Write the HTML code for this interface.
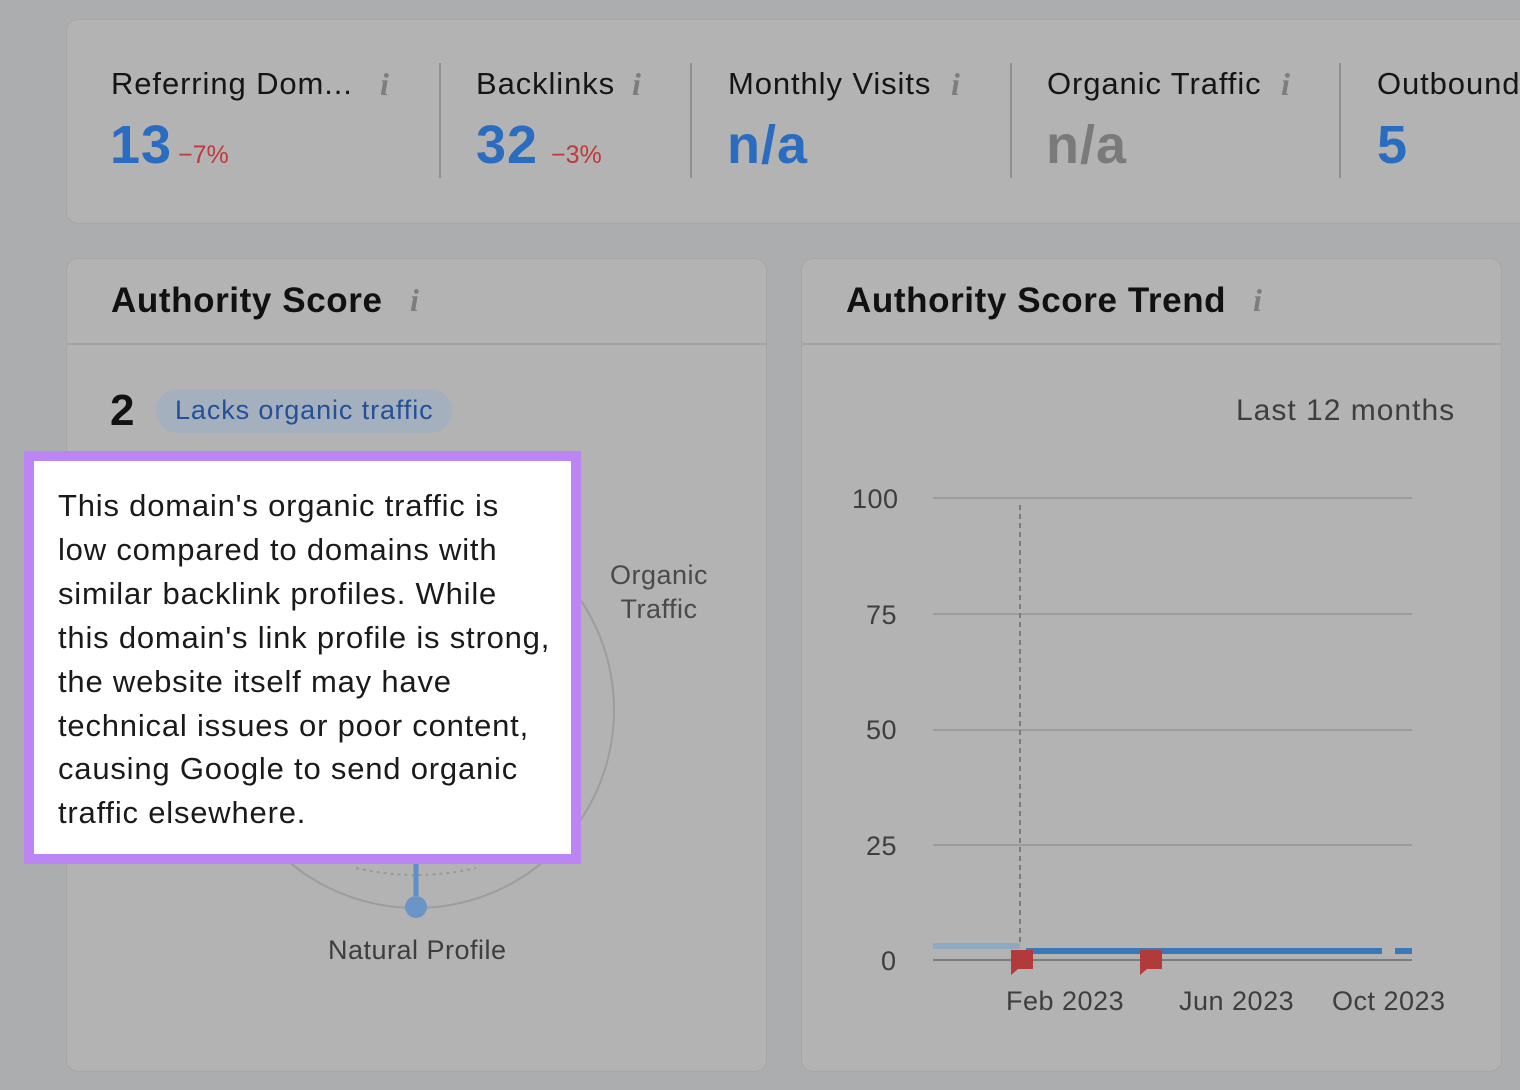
<!DOCTYPE html>
<html><head><meta charset="utf-8"><style>
body{margin:0;width:1520px;height:1090px;background:#acadaf;font-family:"Liberation Sans",sans-serif;position:relative;overflow:hidden}
.card{position:absolute;background:#b3b3b3;border:1px solid #a6a6a6;border-radius:12px}
.t{position:absolute;white-space:nowrap}
.lbl{font-size:31px;color:#151515;letter-spacing:0.9px}
.big{font-size:54px;font-weight:bold;color:#2a6cbf;letter-spacing:1px}
.ch{font-size:25px;color:#c0393b}
.info{position:absolute;font-family:"Liberation Serif",serif;font-style:italic;font-weight:bold;font-size:32px;color:#7d7d7d}
.vs{position:absolute;width:2px;background:#8f8f8f;top:63px;height:115px}
.ax{font-size:27px;color:#3e3e3e;letter-spacing:0.5px}
</style></head><body>
<div class="card" style="left:66px;top:19px;width:1480px;height:203px"></div>
<div class="t lbl" style="left:111px;top:66px">Referring Dom...</div><div class="info" style="left:380px;top:66px">i</div>
<div class="t big" style="left:110px;top:114px">13</div><div class="t ch" style="left:178px;top:141px">−7%</div>
<div class="vs" style="left:439px"></div>
<div class="t lbl" style="left:476px;top:66px">Backlinks</div><div class="info" style="left:632px;top:66px">i</div>
<div class="t big" style="left:476px;top:114px">32</div><div class="t ch" style="left:551px;top:141px">−3%</div>
<div class="vs" style="left:690px"></div>
<div class="t lbl" style="left:728px;top:66px">Monthly Visits</div><div class="info" style="left:951px;top:66px">i</div>
<div class="t big" style="left:727px;top:114px">n/a</div>
<div class="vs" style="left:1010px"></div>
<div class="t lbl" style="left:1047px;top:66px">Organic Traffic</div><div class="info" style="left:1281px;top:66px">i</div>
<div class="t big" style="left:1046px;top:114px;color:#7a7a7a">n/a</div>
<div class="vs" style="left:1339px"></div>
<div class="t lbl" style="left:1377px;top:66px">Outbound</div>
<div class="t big" style="left:1377px;top:114px">5</div>

<div class="card" style="left:66px;top:258px;width:699px;height:812px"></div>
<div style="position:absolute;left:67px;top:343px;width:699px;height:2px;background:#a2a2a2"></div>
<div class="t" style="left:111px;top:281px;font-size:35px;font-weight:bold;color:#111;letter-spacing:0.6px">Authority Score</div>
<div class="info" style="left:410px;top:282px">i</div>
<div class="t" style="left:110px;top:386px;font-size:44px;font-weight:bold;color:#111">2</div>
<div style="position:absolute;left:156px;top:389px;width:296px;height:44px;border-radius:22px;background:#a4b0bd"></div>
<div class="t" style="left:175px;top:395px;font-size:27px;color:#24509a;letter-spacing:0.9px">Lacks organic traffic</div>
<svg style="position:absolute;left:0;top:0" width="1520" height="1090">
<circle cx="416" cy="710" r="198" fill="none" stroke="#9d9d9d" stroke-width="2"/>
<path d="M356 868 Q416 882 476 868" fill="none" stroke="#999" stroke-width="2" stroke-dasharray="3 4"/>
<line x1="416" y1="862" x2="416" y2="896" stroke="#5f8fc4" stroke-width="5"/>
<circle cx="416" cy="907" r="11" fill="#6b95c6"/>
</svg>
<div class="t" style="left:610px;top:558px;font-size:27px;color:#4a4a4a;text-align:center;line-height:34px;letter-spacing:0.5px">Organic<br>Traffic</div>
<div class="t" style="left:328px;top:935px;font-size:27px;color:#3e3e3e;letter-spacing:0.5px">Natural Profile</div>

<div style="position:absolute;left:24px;top:451px;width:537px;height:393px;border:10px solid #bb86f4;background:#fff"></div>
<div class="t" style="left:58px;top:484px;font-size:31px;line-height:43.9px;color:#1a1a1a;letter-spacing:0.8px">This domain's organic traffic is<br>low compared to domains with<br>similar backlink profiles. While<br>this domain's link profile is strong,<br>the website itself may have<br>technical issues or poor content,<br>causing Google to send organic<br>traffic elsewhere.</div>

<div class="card" style="left:801px;top:258px;width:699px;height:812px"></div>
<div style="position:absolute;left:802px;top:343px;width:699px;height:2px;background:#a2a2a2"></div>
<div class="t" style="left:846px;top:281px;font-size:35px;font-weight:bold;color:#111;letter-spacing:0.6px">Authority Score Trend</div>
<div class="info" style="left:1253px;top:282px">i</div>
<div class="t" style="left:1236px;top:394px;font-size:30px;color:#3e3e3e;letter-spacing:1px">Last 12 months</div>
<div class="t ax" style="left:852px;top:484px">100</div>
<div class="t ax" style="left:866px;top:600px">75</div>
<div class="t ax" style="left:866px;top:715px">50</div>
<div class="t ax" style="left:866px;top:831px">25</div>
<div class="t ax" style="left:881px;top:946px">0</div>
<div class="t ax" style="left:1006px;top:986px">Feb 2023</div>
<div class="t ax" style="left:1179px;top:986px">Jun 2023</div>
<div class="t ax" style="left:1332px;top:986px">Oct 2023</div>
<svg style="position:absolute;left:0;top:0" width="1520" height="1090">
<g stroke="#9c9c9c" stroke-width="2">
<line x1="933" y1="498" x2="1412" y2="498"/><line x1="933" y1="614" x2="1412" y2="614"/>
<line x1="933" y1="730" x2="1412" y2="730"/><line x1="933" y1="845" x2="1412" y2="845"/>
</g>
<line x1="933" y1="960" x2="1412" y2="960" stroke="#7c7c7c" stroke-width="2"/>
<line x1="1020" y1="505" x2="1020" y2="945" stroke="#7c7c7c" stroke-width="2" stroke-dasharray="5 4"/>
<line x1="933" y1="946" x2="1020" y2="946" stroke="#8fa9c2" stroke-width="6"/>
<line x1="1026" y1="951" x2="1382" y2="951" stroke="#3a78b8" stroke-width="6"/>
<line x1="1395" y1="951" x2="1412" y2="951" stroke="#3a78b8" stroke-width="6"/>
<path d="M1011 950 H1033 V969 H1018 L1011 975 Z" fill="#b23a3a"/>
<path d="M1140 950 H1162 V969 H1147 L1140 975 Z" fill="#b23a3a"/>
</svg>
</body></html>
